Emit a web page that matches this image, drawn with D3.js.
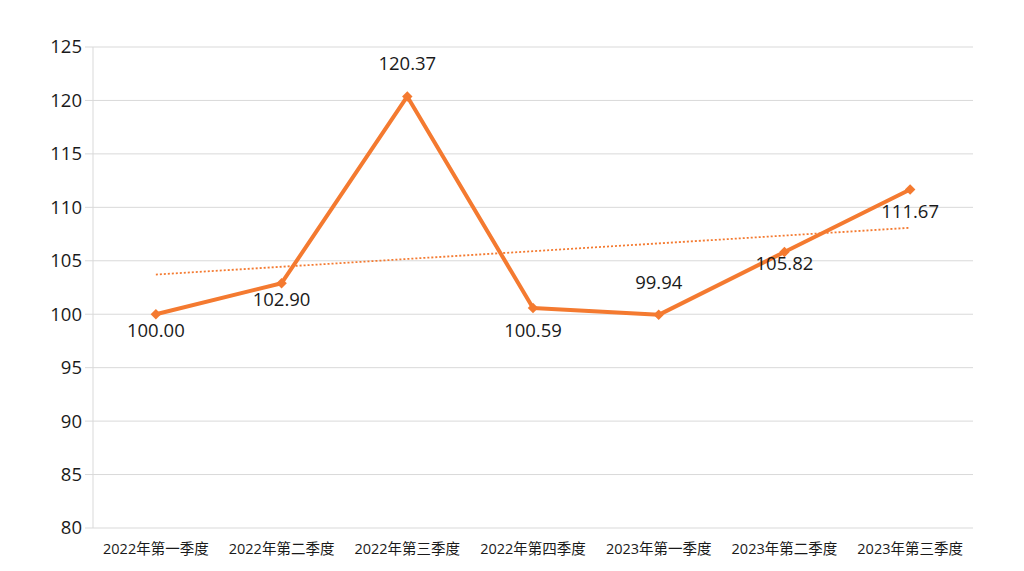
<!DOCTYPE html>
<html><head><meta charset="utf-8">
<script src="https://cdn.jsdelivr.net/npm/d3@7"></script>
<style>
html,body{margin:0;padding:0;background:#fff;}
svg{display:block;font-family:"Open Sans","Noto Sans CJK SC",sans-serif;}
</style></head>
<body>
<svg id="c" width="1024" height="571"></svg>
<script>
const categories = ["2022年第一季度","2022年第二季度","2022年第三季度","2022年第四季度","2023年第一季度","2023年第二季度","2023年第三季度"];
const values = [100.00, 102.90, 120.37, 100.59, 99.94, 105.82, 111.67];
const yTicks = [80, 85, 90, 95, 100, 105, 110, 115, 120, 125];
const labelPlacement = ["below","below","above","below2","above","mid","below2"];

const svg = d3.select("#c");
const m = {left: 93, right: 973, top: 47, bottom: 528};
const x = d3.scaleBand().domain(categories).range([m.left, m.right]);
const y = d3.scaleLinear().domain([80, 125]).range([m.bottom, m.top]);
const cx = d => x(d) + x.bandwidth() / 2;
const color = "#F47A30";

// gridlines
svg.append("g").selectAll("line").data(yTicks).join("line")
  .attr("x1", m.left - 8).attr("x2", m.right)
  .attr("y1", d => y(d)).attr("y2", d => y(d))
  .attr("stroke", "#d9d9d9").attr("stroke-width", 1);
// y axis line
svg.append("line").attr("x1", m.left).attr("x2", m.left)
  .attr("y1", m.top).attr("y2", m.bottom).attr("stroke", "#d9d9d9");

// y tick labels
svg.append("g").selectAll("text").data(yTicks).join("text")
  .attr("x", m.left - 11).attr("y", d => y(d)).attr("dy", "0.35em")
  .attr("text-anchor", "end").attr("font-size", 18.5).attr("fill", "#1a1a1a")
  .text(d => d);

// x labels
svg.append("g").selectAll("text").data(categories).join("text")
  .attr("x", d => cx(d)).attr("y", m.bottom + 26)
  .attr("text-anchor", "middle").attr("font-size", 14.5).attr("fill", "#1a1a1a")
  .text(d => d);

// trend line (linear regression)
const n = values.length;
const xm = d3.mean(d3.range(n)), ym = d3.mean(values);
const slope = d3.sum(values, (v, i) => (i - xm) * (v - ym)) / d3.sum(d3.range(n), i => (i - xm) ** 2);
const icpt = ym - slope * xm;
svg.append("line")
  .attr("x1", cx(categories[0])).attr("y1", y(icpt))
  .attr("x2", cx(categories[n - 1])).attr("y2", y(icpt + slope * (n - 1)))
  .attr("stroke", color).attr("stroke-width", 1.8).attr("stroke-dasharray", "2,2");

// main line
const line = d3.line().x((d, i) => cx(categories[i])).y(d => y(d));
svg.append("path").datum(values).attr("d", line)
  .attr("fill", "none").attr("stroke", color).attr("stroke-width", 4).attr("stroke-linejoin", "round");

// markers
svg.append("g").selectAll("path").data(values).join("path")
  .attr("d", d3.symbol(d3.symbolDiamond2, 70))
  .attr("transform", (d, i) => `translate(${cx(categories[i])},${y(d)})`)
  .attr("fill", color);

// value labels
const dyMap = {below: 23, below2: 29, above: -26, mid: 18};
svg.append("g").selectAll("text").data(values).join("text")
  .attr("x", (d, i) => cx(categories[i]))
  .attr("y", (d, i) => y(d) + dyMap[labelPlacement[i]])
  .attr("text-anchor", "middle").attr("font-size", 18.5).attr("fill", "#1a1a1a")
  .text(d => d.toFixed(2));
</script>
</body></html>
